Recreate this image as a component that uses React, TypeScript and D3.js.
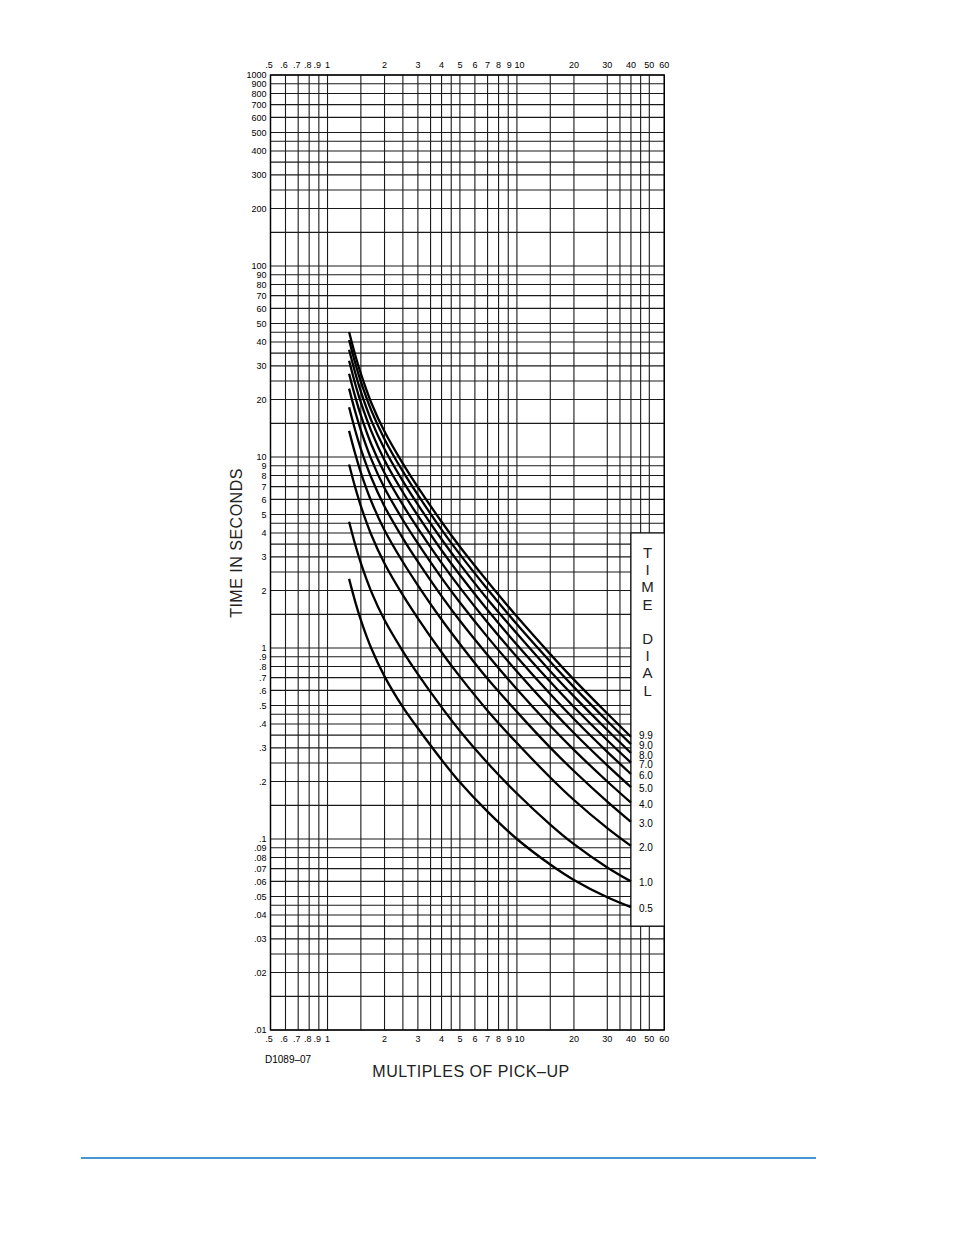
import { useRef, useEffect } from "react";
import * as d3 from "d3";

const pickupMultiples = [1.3, 1.4, 1.5, 1.7, 2, 2.5, 3, 4, 5, 7, 10, 15, 20, 30, 40];

// time in seconds for each time-dial setting, one value per multiple above
const dial05 = [2.3, 1.75, 1.4, 1.0, 0.71, 0.49, 0.38, 0.26, 0.198, 0.139, 0.1, 0.0735, 0.061, 0.0495, 0.044];
const dial10 = [4.58, 3.48, 2.78, 1.98, 1.4, 0.96, 0.73, 0.49, 0.368, 0.25, 0.173, 0.119, 0.094, 0.071, 0.06];
const dial20 = [9.13, 6.93, 5.53, 3.93, 2.77, 1.89, 1.43, 0.95, 0.708, 0.47, 0.318, 0.21, 0.16, 0.114, 0.092];
const dial30 = [13.7, 10.4, 8.28, 5.88, 4.14, 2.82, 2.13, 1.41, 1.05, 0.69, 0.463, 0.301, 0.227, 0.157, 0.123];
const dial40 = [18.2, 13.8, 11.0, 7.83, 5.51, 3.75, 2.83, 1.87, 1.39, 0.92, 0.608, 0.392, 0.293, 0.2, 0.155];
const dial50 = [22.8, 17.3, 13.8, 9.78, 6.88, 4.68, 3.53, 2.33, 1.73, 1.14, 0.753, 0.483, 0.359, 0.243, 0.187];
const dial60 = [27.3, 20.7, 16.5, 11.7, 8.25, 5.61, 4.23, 2.79, 2.07, 1.36, 0.898, 0.574, 0.425, 0.286, 0.219];
const dial70 = [31.9, 24.2, 19.3, 13.7, 9.62, 6.54, 4.93, 3.25, 2.41, 1.58, 1.04, 0.665, 0.491, 0.329, 0.251];
const dial80 = [36.4, 27.6, 22.0, 15.6, 11.0, 7.47, 5.63, 3.71, 2.75, 1.8, 1.19, 0.756, 0.558, 0.372, 0.282];
const dial90 = [41.0, 31.1, 24.8, 17.6, 12.4, 8.4, 6.33, 4.17, 3.09, 2.03, 1.33, 0.847, 0.624, 0.415, 0.314];
const dial99 = [45.1, 34.2, 27.3, 19.3, 13.6, 9.24, 6.96, 4.58, 3.39, 2.23, 1.46, 0.929, 0.683, 0.454, 0.343];

const dialLabels = ["9.9", "9.0", "8.0", "7.0", "6.0", "5.0", "4.0", "3.0", "2.0", "1.0", "0.5"];
const dialSeries = [dial99, dial90, dial80, dial70, dial60, dial50, dial40, dial30, dial20, dial10, dial05];

// grid and tick labels
const xGrid = [0.5, 0.6, 0.7, 0.8, 0.9, 1, 1.5, 2, 2.5, 3, 3.5, 4, 4.5, 5, 6, 7, 8, 9, 10, 15, 20, 30, 35, 40, 45, 50, 60];
const xTicks = [0.5, 0.6, 0.7, 0.8, 0.9, 1, 2, 3, 4, 5, 6, 7, 8, 9, 10, 20, 30, 40, 50, 60];
const xTickText = [".5", ".6", ".7", ".8", ".9", "1", "2", "3", "4", "5", "6", "7", "8", "9", "10", "20", "30", "40", "50", "60"];
const yDecades = [0.01, 0.1, 1, 10, 100];
const ySteps = [1, 1.5, 2, 2.5, 3, 3.5, 4, 4.5, 5, 6, 7, 8, 9];
const yTicks = [
  1000, 900, 800, 700, 600, 500, 400, 300, 200,
  100, 90, 80, 70, 60, 50, 40, 30, 20,
  10, 9, 8, 7, 6, 5, 4, 3, 2,
  1, 0.9, 0.8, 0.7, 0.6, 0.5, 0.4, 0.3, 0.2,
  0.1, 0.09, 0.08, 0.07, 0.06, 0.05, 0.04, 0.03, 0.02, 0.01,
];

const W = 954;
const H = 1235;
const sans = "'Liberation Sans', Arial, sans-serif";

const App = () => {
  const ref = useRef<SVGSVGElement | null>(null);

  useEffect(() => {
    const svg = d3.select(ref.current);
    svg.selectAll("*").remove();

    const x = d3.scaleLog().domain([0.5, 60]).range([270.5, 664.3]);
    const y = d3.scaleLog().domain([0.01, 1000]).range([1030, 75]);

    const yGrid: number[] = [1000];
    yDecades.forEach((d) => ySteps.forEach((s) => yGrid.push(+(d * s).toPrecision(3))));

    const grid = svg.append("g").attr("stroke", "#1a1a1a").attr("stroke-width", 1.1);
    grid
      .selectAll("line.v")
      .data(xGrid)
      .join("line")
      .attr("class", "v")
      .attr("x1", (d) => x(d))
      .attr("x2", (d) => x(d))
      .attr("y1", y(1000))
      .attr("y2", y(0.01));
    grid
      .selectAll("line.h")
      .data(yGrid)
      .join("line")
      .attr("class", "h")
      .attr("x1", x(0.5))
      .attr("x2", x(60))
      .attr("y1", (d) => y(d))
      .attr("y2", (d) => y(d));

    // frame
    svg
      .append("rect")
      .attr("x", x(0.5))
      .attr("y", y(1000))
      .attr("width", x(60) - x(0.5))
      .attr("height", y(0.01) - y(1000))
      .attr("fill", "none")
      .attr("stroke", "#000")
      .attr("stroke-width", 1.4);

    // x tick labels, top and bottom
    [68, 1041.5].forEach((yy) => {
      svg
        .append("g")
        .selectAll("text")
        .data(xTicks)
        .join("text")
        .attr("x", (d) => x(d))
        .attr("dx", (d, i) => (xTickText[i].startsWith(".") ? -1.5 : d === 9 ? 1 : d === 10 ? 2.5 : 0))
        .attr("y", yy)
        .attr("text-anchor", "middle")
        .attr("font-family", sans)
        .attr("font-size", 9)
        .attr("fill", "#000")
        .text((d, i) => xTickText[i]);
    });

    // y tick labels
    svg
      .append("g")
      .selectAll("text")
      .data(yTicks)
      .join("text")
      .attr("x", 266.5)
      .attr("y", (d) => y(d))
      .attr("dy", "0.36em")
      .attr("text-anchor", "end")
      .attr("font-family", sans)
      .attr("font-size", 9)
      .attr("fill", "#000")
      .text((d) => (d >= 1 ? String(d) : String(d).replace(/^0/, "")));

    // time dial panel
    svg
      .append("rect")
      .attr("x", x(40))
      .attr("y", y(4))
      .attr("width", x(60) - x(40))
      .attr("height", y(0.035) - y(4))
      .attr("fill", "#fff")
      .attr("stroke", "#000")
      .attr("stroke-width", 1.1);

    const panelCx = (x(40) + x(60)) / 2;
    const letters = ["T", "I", "M", "E", "", "D", "I", "A", "L"];
    svg
      .append("g")
      .selectAll("text")
      .data(letters)
      .join("text")
      .attr("x", panelCx)
      .attr("y", (d, i) => 558 + i * 17.2)
      .attr("text-anchor", "middle")
      .attr("font-family", sans)
      .attr("font-size", 15)
      .attr("fill", "#222")
      .text((d) => d);

    // curves
    const line = d3
      .line<number>()
      .x((d, i) => x(pickupMultiples[i]))
      .y((d) => y(d))
      .curve(d3.curveCatmullRom.alpha(0.5));

    svg
      .append("g")
      .selectAll("path")
      .data(dialSeries)
      .join("path")
      .attr("d", (d) => line(d))
      .attr("fill", "none")
      .attr("stroke", "#000")
      .attr("stroke-width", 2.3);

    // dial labels at the end of each curve, kept apart so they do not collide
    const labelY: number[] = [];
    dialSeries.forEach((d, i) => {
      const want = y(d[d.length - 1]) + (i === 0 ? -1 : 1.5);
      labelY.push(i === 0 ? want : Math.max(want, labelY[i - 1] + 9.6));
    });
    svg
      .append("g")
      .selectAll("text")
      .data(dialLabels)
      .join("text")
      .attr("x", x(40) + 8)
      .attr("y", (d, i) => labelY[i])
      .attr("dy", "0.36em")
      .attr("font-family", sans)
      .attr("font-size", 10)
      .attr("fill", "#000")
      .text((d) => d);

    // axis titles
    svg
      .append("text")
      .attr("transform", "translate(242,543) rotate(-90)")
      .attr("text-anchor", "middle")
      .attr("font-family", sans)
      .attr("font-size", 16)
      .attr("letter-spacing", 0.5)
      .attr("fill", "#222")
      .text("TIME IN SECONDS");

    svg
      .append("text")
      .attr("x", 471)
      .attr("y", 1077)
      .attr("text-anchor", "middle")
      .attr("font-family", sans)
      .attr("font-size", 16)
      .attr("letter-spacing", 0.5)
      .attr("fill", "#222")
      .text("MULTIPLES OF PICK\u2013UP");

    svg
      .append("text")
      .attr("x", 265)
      .attr("y", 1063)
      .attr("font-family", sans)
      .attr("font-size", 10)
      .attr("fill", "#000")
      .text("D1089\u201307");

    // footer rule
    svg
      .append("line")
      .attr("x1", 81)
      .attr("x2", 816)
      .attr("y1", 1158)
      .attr("y2", 1158)
      .attr("stroke", "#0a72c4")
      .attr("stroke-width", 1.4);
  }, []);

  return (
    <svg
      ref={ref}
      width={W}
      height={H}
      style={{ position: "absolute", left: 0, top: 0, background: "#fff" }}
    />
  );
};

export default App;
